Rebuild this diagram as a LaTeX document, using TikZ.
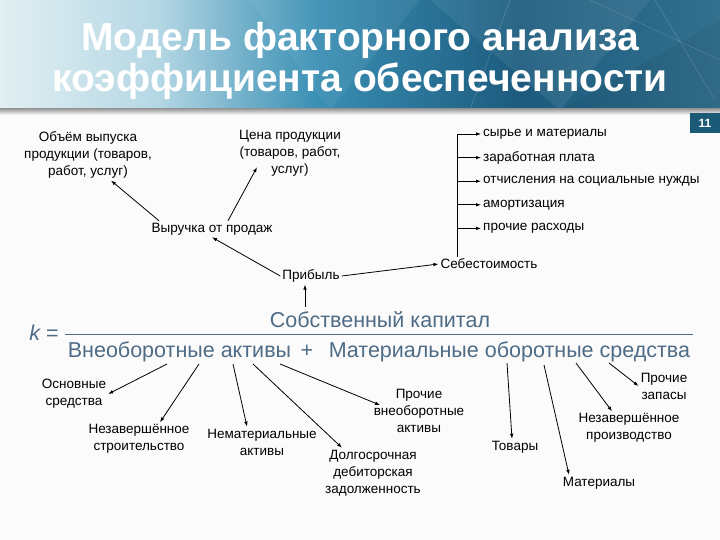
\documentclass[tikz,border=0pt]{standalone}
\usepackage{fontspec}
\setmainfont{Liberation Sans}
\usetikzlibrary{arrows.meta, positioning, calc}
\definecolor{colour_light}{HTML}{E2EFF3}
\definecolor{colour_pale}{HTML}{B4D7E4}
\definecolor{colour_mid}{HTML}{3A8FB4}
\definecolor{colour_head}{HTML}{1C5B7E}
\definecolor{colour_edge}{HTML}{33718F}
\definecolor{colour_page}{HTML}{1B5A77}
\definecolor{colour_formula}{HTML}{4F6C86}
% the path is mapped onto 25bp--75bp of the shading
\pgfdeclarehorizontalshading{headband}{100bp}{color(0bp)=(colour_light); color(25bp)=(colour_light);
   color(36bp)=(colour_pale); color(47bp)=(colour_mid); color(61bp)=(colour_head);
   color(75bp)=(colour_edge); color(100bp)=(colour_edge)}

\begin{document}
\begin{tikzpicture}
   [
      x=1pt, y=-1pt,
      label node/.style={font=\fontsize{13.5}{17}\selectfont, align=center, inner sep=2pt},
      cost item/.style={font=\fontsize{13.5}{17}\selectfont, anchor=west, inner sep=2pt},
      link/.style={-{Latex[length=5pt, width=3.6pt]}, line width=0.8pt},
      formula/.style={font=\fontsize{21.5}{24}\selectfont, text=colour_formula, inner sep=2pt},
      title/.style={font=\fontsize{39}{41}\selectfont\bfseries, text=white, align=center},
      page box/.style={fill=colour_page, text=white, font=\fontsize{12}{14}\selectfont\bfseries,
                       minimum width=31pt, minimum height=20pt, inner sep=0pt}
   ]

   \useasboundingbox (0,0) rectangle (720,540);
   \fill[white!97!gray] (0,0) rectangle (720,540);

   % =======================================================
   % Header band
   % =======================================================

   \shade[shading=headband] (0,0) rectangle (720,110);
   \fill[white, opacity=0.07] (430,0) -- (560,110) -- (650,0) -- cycle;
   \fill[black, opacity=0.06] (560,110) -- (720,20) -- (720,110) -- cycle;
   \fill[white, opacity=0.06] (250,0) -- (330,110) -- (420,0) -- cycle;
   \draw[white, opacity=0.25] (510,0) -- (470,110);
   \draw[white, opacity=0.25] (655,0) -- (715,100);
   \draw[white, opacity=0.2] (590,0) -- (720,60);
   \shade[top color=gray!75, bottom color=white!97!gray] (0,109) rectangle (720,115);

   \node[title] (title) at (360,61) {Модель факторного анализа\\коэффициента обеспеченности};
   \node[page box] (page) at (705,123) {11};

   % =======================================================
   % Upper tree: profit
   % =======================================================

   \node[label node] (obem) at (88,155) {Объём выпуска\\продукции (товаров,\\работ, услуг)};
   \node[label node] (cena) at (290,153) {Цена продукции\\(товаров, работ,\\услуг)};
   \node[label node] (vyr) at (212,229) {Выручка от продаж};
   \node[label node] (prib) at (311,276) {Прибыль};
   \node[label node] (seb) at (489,264) {Себестоимость};

   \draw[link] ([xshift=-53pt]vyr.north) -- ([xshift=23pt]obem.south);
   \draw[link] ([xshift=16pt]vyr.north) -- ([shift={(-33pt,11pt)}]cena.south);
   \draw[link] (prib.west) -- (vyr.south);
   \draw[link] (prib.east) -- (seb.west);

   % Cost items
   \node[cost item] (it1) at (481,134) {сырье и материалы};
   \node[cost item, below=23.6pt of it1.west, anchor=west] (it2) {заработная плата};
   \node[cost item, below=23.6pt of it2.west, anchor=west] (it3) {отчисления на социальные нужды};
   \node[cost item, below=23.6pt of it3.west, anchor=west] (it4) {амортизация};
   \node[cost item, below=23.6pt of it4.west, anchor=west] (it5) {прочие расходы};

   \coordinate (bus) at (457,134);
   \draw[line width=0.8pt] (seb.north -| bus) -- (it1.west -| bus);
   \draw[link] (it1.west -| bus) -- (it1.west);
   \draw[link] (it2.west -| bus) -- (it2.west);
   \draw[link] (it3.west -| bus) -- (it3.west);
   \draw[link] (it4.west -| bus) -- (it4.west);
   \draw[link] (it5.west -| bus) -- (it5.west);

   % =======================================================
   % Formula
   % =======================================================

   \node[formula, anchor=base] (keq) at (44,340) {{\itshape k} =};
   \node[formula, anchor=base] (num) at (380,327) {Собственный капитал};
   \node[formula, anchor=base] (den) at (379,357) {Внеоборотные активы~\,+~\,~Материальные оборотные средства};
   \draw[colour_formula, line width=0.8pt] (65,334) -- (693,334);

   \coordinate (num_top) at (305,307);
   \draw[link] (num_top) -- (num_top |- prib.south);

   % =======================================================
   % Lower tree: assets
   % =======================================================

   \node[label node] (osn) at (74,394) {Основные\\средства};
   \node[label node] (nzs) at (139,439) {Незавершённое\\строительство};
   \node[label node] (nma) at (262,442) {Нематериальные\\активы};
   \node[label node] (dolg) at (373,473) {Долгосрочная\\дебиторская\\задолженность};
   \node[label node] (proch) at (419,411) {Прочие\\внеоборотные\\активы};
   \node[label node] (tov) at (515,447) {Товары};
   \node[label node] (mat) at (599,483) {Материалы};
   \node[label node] (nzp) at (629,428) {Незавершённое\\производство};
   \node[label node] (zap) at (664,386) {Прочие\\запасы};

   \coordinate (s_osn) at (167,364);
   \coordinate (s_nzs) at (199,364);
   \coordinate (s_nma) at (233,364);
   \coordinate (s_dolg) at (253,364);
   \coordinate (s_proch) at (280,364);
   \coordinate (s_tov) at (507,363);
   \coordinate (s_mat) at (544,365);
   \coordinate (s_nzp) at (576,363);
   \coordinate (s_zap) at (609,363);

   \draw[link] (s_osn) -- (osn.east);
   \draw[link] (s_nzs) -- ([xshift=21pt]nzs.north);
   \draw[link] (s_nma) -- ([xshift=-15pt]nma.north);
   \draw[link] (s_dolg) -- ([xshift=-31pt]dolg.north);
   \draw[link] (s_proch) -- ([shift={(-39pt,-18pt)}]proch.north);
   \draw[link] (s_tov) -- ([xshift=-3pt]tov.north);
   \draw[link] (s_mat) -- ([xshift=-30pt]mat.north);
   \draw[link] (s_nzp) -- ([xshift=-17pt]nzp.north);
   \draw[link] (s_zap) -- (zap.west);

\end{tikzpicture}
\end{document}
